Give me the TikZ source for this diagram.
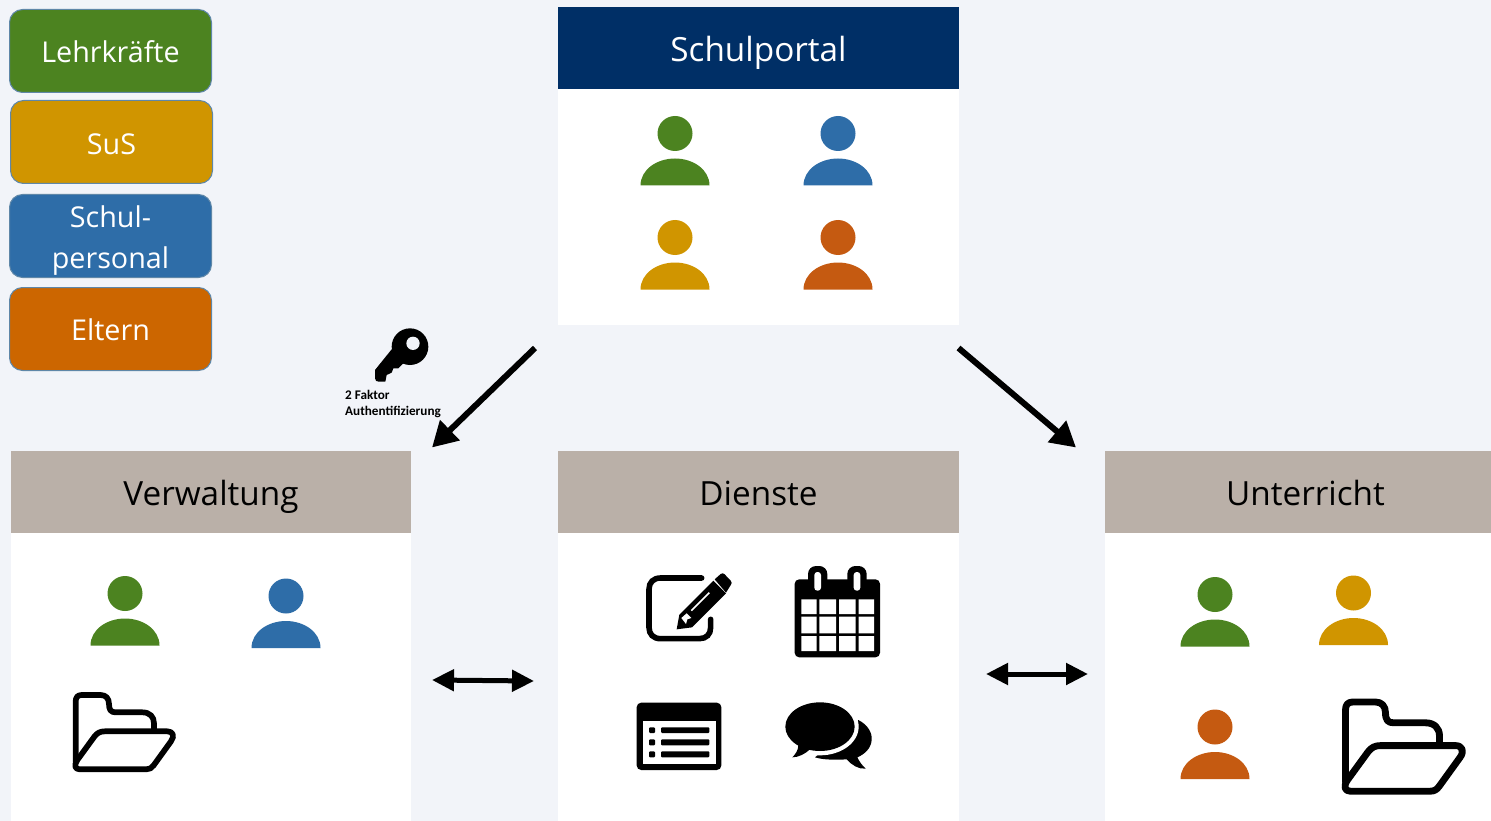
\documentclass[tikz,border=0pt]{standalone}
\usepackage{fontspec}
\setmainfont{Open Sans}
\newfontfamily\smallfont{Carlito}
\usetikzlibrary{arrows.meta}
\definecolor{pagebg}{HTML}{F2F4F9}
\definecolor{navy}{HTML}{002F66}
\definecolor{leafgreen}{HTML}{4C8320}
\definecolor{amberc}{HTML}{D09500}
\definecolor{bluec}{HTML}{2E6DA8}
\definecolor{orangec}{HTML}{CC6600}
\definecolor{rustc}{HTML}{C55A11}
\definecolor{greyhead}{HTML}{BAB0A8}
\definecolor{edgec}{HTML}{5F87A8}
\tikzset{
  x=1pt,y=-1pt,
  legendbox/.style={draw=edgec,line width=1pt,rounded corners=13pt,minimum width=202pt,minimum height=83pt,inner sep=0pt,outer sep=0pt,anchor=north west,text=white,font=\fontsize{28.7}{41}\selectfont,align=center},
  headbox/.style={minimum width=401pt,minimum height=82pt,inner sep=0pt,outer sep=0pt,anchor=north west,font=\fontsize{33.3}{40}\selectfont,text height=32pt,text depth=4pt},
  greybox/.style={headbox,fill=greyhead,text=black,text height=30pt},
  panelbody/.style={fill=white,minimum width=401pt,inner sep=0pt,outer sep=0pt,anchor=north west},
  bigarrow/.style={line width=6pt,-{Triangle[length=25pt,width=27pt]}},
  twoway/.style={line width=5pt,{Triangle[length=22pt,width=21pt]}-{Triangle[length=22pt,width=21pt]}},
  person/.pic={
    \fill[#1] (0,0) circle[radius=17.5];
    \fill[#1] (-34.5,52) .. controls (-34.5,36) and (-18,25) .. (0,25) .. controls (18,25) and (34.5,36) .. (34.5,52) -- cycle;
  },
  folder/.pic={
    \begin{scope}[scale=#1/3,line width=#1*5.7pt,line join=round,line cap=round,draw=black]
      \draw (50,245) -- (50,65) .. controls (50,52) and (56,45) .. (68,45) -- (125,45) .. controls (140,45) and (150,55) .. (150,72) .. controls (150,90) and (156,97) .. (170,97) -- (250,97) .. controls (272,97) and (285,110) .. (285,130) -- (285,152);
      \draw (62,268) -- (262,268) .. controls (272,268) and (278,264) .. (284,256) -- (336,184) .. controls (348,168) and (342,154) .. (325,154) -- (138,154) .. controls (124,154) and (115,158) .. (106,170) -- (55,240) .. controls (44,256) and (48,268) .. (62,268) -- cycle;
    \end{scope}
  }
}
\begin{document}
\begin{tikzpicture}
\useasboundingbox (0,0) rectangle (1491,821);
\fill[pagebg] (0,0) rectangle (1491,821);

% legend
\node[legendbox,fill=leafgreen] (lehr) at (9.5,9.5) {\rule{0pt}{24pt}Lehrkräfte};
\node[legendbox,fill=amberc] (sus) at (10.5,100.5) {\rule{0pt}{25pt}SuS};
\node[legendbox,fill=bluec] (schul) at (9.5,194.5) {\rule{0pt}{30pt}Schul-\\personal};
\node[legendbox,fill=orangec] (eltern) at (9.5,287.5) {\rule{0pt}{24pt}Eltern};

% panels
\node[panelbody,minimum height=236pt] (portalbody) at (558,89) {};
\node[headbox,fill=navy,text=white] (portal) at (558,7) {Schulportal};
\node[panelbody,minimum height=288pt,minimum width=400pt] (verwbody) at (11,533) {};
\node[greybox,minimum width=400pt] (verw) at (11,451) {Verwaltung};
\node[panelbody,minimum height=288pt] (dienstbody) at (558,533) {};
\node[greybox] (dienst) at (558,451) {Dienste};
\node[panelbody,minimum height=288pt,minimum width=386pt] (untbody) at (1105,533) {};
\node[greybox,minimum width=386pt] (unt) at (1105,451) {\hspace*{15pt}Unterricht};

% people
\pic at (675,133.5) {person=leafgreen};
\pic at (838,133.5) {person=bluec};
\pic at (675,237.5) {person=amberc};
\pic at (838,237.5) {person=rustc};
\pic at (125,593.5) {person=leafgreen};
\pic at (286,596) {person=bluec};
\pic at (1215,594.5) {person=leafgreen};
\pic at (1353.5,593) {person=amberc};
\pic at (1215,727) {person=rustc};

% folders
\pic at (59,680) {folder=1};
\pic at (1325.5,684) {folder=1.2};

% service icons
\begin{scope}[shift={(620,550)},scale=1/3]
  % edit
  \draw[line width=5.6pt,line cap=round] (245,84) -- (122,84) .. controls (100,84) and (87,97) .. (87,118) -- (87,232) .. controls (87,253) and (100,266) .. (122,266) -- (238,266) .. controls (259,266) and (272,253) .. (272,232) -- (272,208);
  \fill (170,238) -- (178,194) -- (280,92) -- (318,130) -- (216,232) -- cycle;
  \fill (284,88) -- (302,72) .. controls (306,69) and (310,69) .. (314,73) -- (332,92) .. controls (336,96) and (336,100) .. (333,104) -- (318,128) -- cycle;
  \draw[white,line width=1.6pt] (214,182) -- (268,128);
  \fill[white] (184,204) -- (200,190) -- (214,204) -- (202,208) -- (198,222) -- cycle;
  % calendar
  \fill[rounded corners=4.5pt] (524,88) rectangle (780,322);
  \fill[rounded corners=8pt] (564,48) rectangle (622,130);
  \fill[rounded corners=8pt] (682,48) rectangle (740,130);
  \fill[white,rounded corners=3pt] (583,66) rectangle (603,122);
  \fill[white,rounded corners=3pt] (701,66) rectangle (721,122);
  \fill[white] (544,148) rectangle (590,192) (598,148) rectangle (648,192) (657,148) rectangle (707,192) (716,148) rectangle (762,192);
  \fill[white] (544,200) rectangle (590,250) (598,200) rectangle (648,250) (657,200) rectangle (707,250) (716,200) rectangle (762,250);
  \fill[white] (544,258) rectangle (590,303) (598,258) rectangle (648,303) (657,258) rectangle (707,303) (716,258) rectangle (762,303);
  % list
  \fill[rounded corners=4.5pt] (50,458) rectangle (304,660);
  \fill[white] (68,514) rectangle (287,642);
  \fill[rounded corners=1pt] (87,532) rectangle (105,549) (87,568) rectangle (105,586) (87,604) rectangle (105,622);
  \fill[rounded corners=1pt] (123,532) rectangle (268,549) (123,568) rectangle (268,586) (123,604) rectangle (268,622);
  % chat
  \fill (715,510) .. controls (745,525) and (757,550) .. (755,570) .. controls (753,595) and (735,612) .. (712,622) .. controls (718,635) and (728,648) .. (737,656) .. controls (715,658) and (695,645) .. (680,628) .. controls (650,630) and (610,630) .. (585,622) -- (650,570) -- cycle;
  \fill[white] (600,530) ellipse[x radius=116,y radius=86];
  \fill (600,530) ellipse[x radius=104,y radius=73];
  \fill (535,585) .. controls (535,600) and (527,612) .. (517,622) .. controls (535,622) and (555,612) .. (570,598) -- cycle;
\end{scope}

% key
\begin{scope}[shift={(330,320)},scale=1/3]
  \fill (185,88) -- (135,150) -- (135,175) .. controls (135,182) and (140,185) .. (146,185) -- (166,185) -- (170,165) -- (185,158) -- (190,145) -- (205,145) -- (222,128) -- cycle;
  \fill (240,80) circle[radius=55];
  \fill[pagebg] (249,70) circle[radius=20];
\end{scope}
\node[anchor=north west,inner sep=0pt,align=left,font=\smallfont\bfseries\fontsize{13.2}{16}\selectfont] (keylabel) at (345,390) {2 Faktor\\Authentifizierung};

% connectors
\coordinate (a1s) at (535,348);
\coordinate (a1e) at (432,447.5);
\coordinate (a2s) at (958.5,348);
\coordinate (a2e) at (1076,447.5);
\coordinate (b1s) at (432,680);
\coordinate (b1e) at (534,681);
\coordinate (b2s) at (986,674);
\coordinate (b2e) at (1088,674);
\draw[bigarrow] (a1s) -- (a1e);
\draw[bigarrow] (a2s) -- (a2e);
\draw[twoway] (b1s) -- (b1e);
\draw[twoway] (b2s) -- (b2e);
\end{tikzpicture}
\end{document}
